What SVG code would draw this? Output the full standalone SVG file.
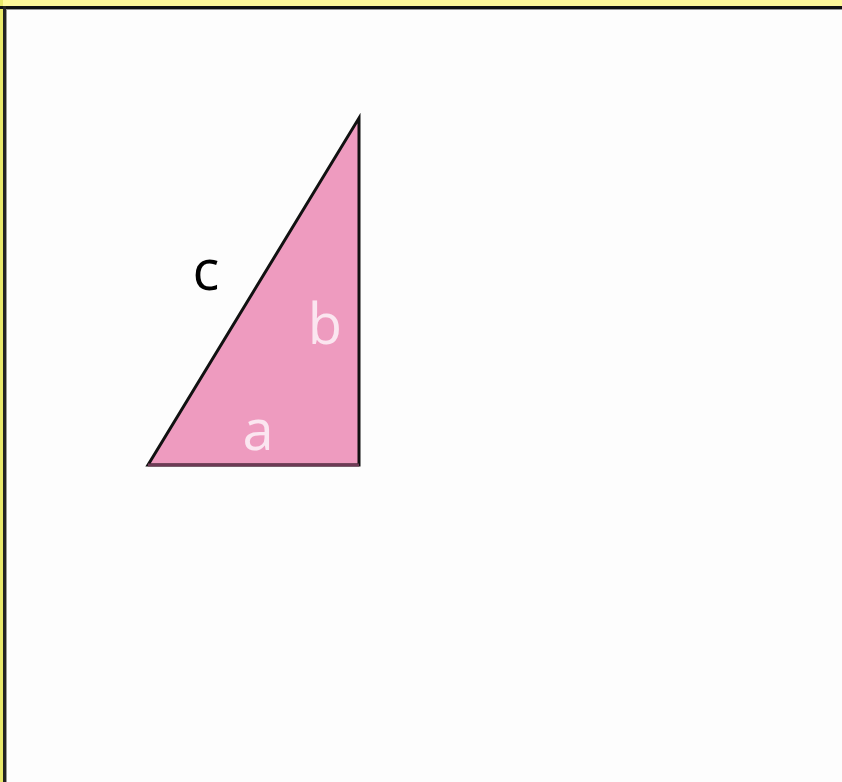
<svg xmlns="http://www.w3.org/2000/svg" width="842" height="782" viewBox="0 0 842 782">
<style>
.lbl{font-family:"Open Sans","DejaVu Sans",sans-serif;font-size:56px}
</style>
<rect x="0" y="0" width="842" height="782" fill="#fdfdfd"/>
<rect x="0" y="0" width="842" height="6" fill="#fff89a"/>
<rect x="0" y="0" width="3" height="782" fill="#e8e86a"/>
<rect x="0" y="6" width="842" height="3" fill="#111"/>
<rect x="3" y="6" width="3" height="776" fill="#222"/>
<rect x="6" y="9" width="836" height="1" fill="#999"/>
<rect x="6" y="9" width="1" height="773" fill="#999"/>
<g id="triangle">
<polygon points="148,465 359,465 359,118" fill="#ee9bbf" stroke="#111" stroke-width="3" stroke-linejoin="miter"/>
<line x1="148" y1="465" x2="359" y2="465" stroke="#6e3a55" stroke-width="3"/>
</g>
<text class="lbl" x="206" y="290" fill="#000" text-anchor="middle">c</text>
<text class="lbl" x="325" y="344" fill="#fbe6f0" text-anchor="middle">b</text>
<text class="lbl" x="258" y="450" fill="#fbe6f0" text-anchor="middle">a</text>
</svg>
